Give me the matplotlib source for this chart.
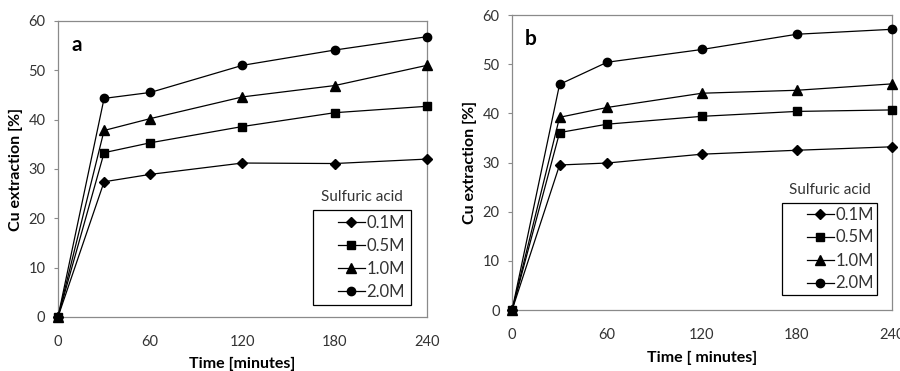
import matplotlib.pyplot as plt
from matplotlib.patches import Rectangle

plt.rcParams['font.family'] = 'Lato'

# Sampling times (minutes)
time = [0, 30, 60, 120, 180, 240]
concentrations = ["0.1M", "0.5M", "1.0M", "2.0M"]
markers = ["D", "s", "^", "o"]
marker_sizes = [5, 5.5, 6.5, 6]

# Cu extraction [%] for each sulfuric acid concentration, panel a
extraction_a = [
    [0, 27.4, 28.9, 31.2, 31.1, 32.0],
    [0, 33.3, 35.3, 38.6, 41.4, 42.7],
    [0, 37.8, 40.2, 44.6, 46.9, 51.0],
    [0, 44.3, 45.5, 51.0, 54.1, 56.8],
]

# panel b
extraction_b = [
    [0, 29.5, 29.9, 31.7, 32.5, 33.2],
    [0, 36.1, 37.8, 39.4, 40.4, 40.7],
    [0, 39.2, 41.2, 44.1, 44.7, 46.0],
    [0, 45.9, 50.4, 53.0, 56.1, 57.1],
]

fig = plt.figure(figsize=(9, 3.71), dpi=100)
fw, fh = fig.get_size_inches() * fig.dpi
ax_a = fig.add_axes([0.0644, 0.1456, 0.41, 0.798])
ax_b = fig.add_axes([0.569, 0.1644, 0.422, 0.795])

# axes, data, panel tag, x label, legend box (pixels: left, top, right, bottom)
panels = [
    (ax_a, extraction_a, "a", "Time [minutes]", (313, 210, 411, 305)),
    (ax_b, extraction_b, "b", "Time [ minutes]", (782, 203, 877, 295)),
]

for ax, data, tag, xlabel, box in panels:
    for vals, lab, m, ms in zip(data, concentrations, markers, marker_sizes):
        ax.plot(time, vals, color="black", linewidth=0.9, marker=m,
                markersize=ms, label=lab, clip_on=False, zorder=3)
    ax.set_xlim(0, 240)
    ax.set_ylim(0, 60)
    ax.set_xticks([0, 60, 120, 180, 240])
    ax.set_yticks(range(0, 61, 10))
    for s in ax.spines.values():
        s.set_color("#8a8a8a")
        s.set_linewidth(0.9)
    ax.tick_params(axis="y", length=3, color="#8a8a8a", labelsize=10.5,
                   labelcolor="#333333", pad=6)
    ax.tick_params(axis="x", length=0, labelsize=10.5, labelcolor="#333333", pad=13)
    ax.set_xlabel(xlabel, fontsize=11.5, fontweight="bold", labelpad=6)
    ax.set_ylabel("Cu extraction [%]", fontsize=11.5, fontweight="bold", labelpad=4)
    ax.text(0.05, 0.92, tag, transform=ax.transAxes, fontsize=15,
            fontweight="bold", va="center", ha="center")

    # Legend: framed box, entries inset from its left edge, title above the frame
    x0, y0, x1, y1 = box
    fig.patches.append(Rectangle((x0 / fw, 1 - y1 / fh), (x1 - x0) / fw, (y1 - y0) / fh,
                                 transform=fig.transFigure, fill=False,
                                 edgecolor="black", linewidth=0.9))
    leg = fig.legend(*ax.get_legend_handles_labels(), loc="center left",
                     bbox_to_anchor=((x0 + 20) / fw, 1 - (y0 + y1) / 2 / fh),
                     fontsize=12, frameon=False, handlelength=1.6,
                     handletextpad=0.1, labelspacing=0.42, borderpad=0.3,
                     borderaxespad=0)
    for t in leg.get_texts():
        t.set_color("#333333")
    fig.text((x0 + x1) / 2 / fw, 1 - (y0 - 13) / fh, "Sulfuric acid",
             ha="center", va="center", fontsize=11, color="#333333")

fig.savefig("out.png", dpi=100)
